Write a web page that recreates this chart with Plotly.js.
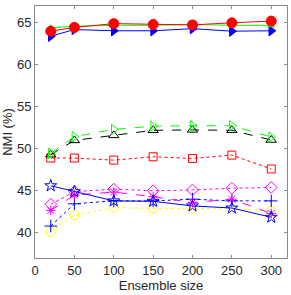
<!DOCTYPE html>
<html>
<head>
<meta charset="utf-8">
<script src="https://cdn.plot.ly/plotly-3.0.1.min.js"></script>
<style>html,body{margin:0;padding:0;background:#fff;}#chart{width:291px;height:295px;}</style>
</head>
<body>
<div id="chart"></div>
<script>
var ensembleSizes = [20, 50, 100, 150, 200, 250, 300];
var xTicks = [0, 50, 100, 150, 200, 250, 300];
var yTicks = [40, 45, 50, 55, 60, 65];

var seriesYellowCircle = [40.1, 42.1, 43.0, 42.9, 42.9, 42.85, 42.6];
var seriesBluePlus = [40.8, 43.45, 43.8, 43.8, 44.0, 43.8, 43.8];
var seriesMagentaAsterisk = [42.65, 44.5, 44.85, 44.3, 43.6, 44.0, 42.3];
var seriesMagentaDiamond = [43.4, 44.9, 45.2, 45.0, 45.1, 45.3, 45.4];
var seriesBlueStar = [45.6, 44.9, 43.8, 43.75, 43.2, 42.95, 41.85];
var seriesRedSquare = [48.9, 48.9, 48.65, 49.05, 48.85, 49.25, 47.6];
var seriesBlackTriangle = [49.3, 51.0, 51.6, 52.2, 52.25, 52.2, 51.05];
var seriesGreenRightTriangle = [49.45, 51.45, 52.3, 52.7, 52.75, 52.75, 51.4];
var seriesBlueRightTriangle = [63.4, 64.2, 64.05, 64.05, 64.3, 64.0, 64.05];
var seriesGreenTriangle = [64.4, 64.6, 64.7, 64.7, 64.8, 64.7, 64.7];
var seriesRedCircle = [64.0, 64.45, 64.9, 64.8, 64.75, 65.0, 65.2];

function tr(y, color, dash, symbol, size) {
  return {
    x: ensembleSizes, y: y, type: 'scatter', mode: 'lines+markers',
    line: {color: color, width: 1, dash: dash},
    marker: {symbol: symbol, size: size, color: color, line: {color: color, width: 1}},
    showlegend: false
  };
}

var data = [
  tr(seriesYellowCircle, '#ffff00', 'dot', 'circle-open', 9),
  tr(seriesBluePlus, '#0000ff', 'dot', 'cross-thin-open', 9),
  tr(seriesMagentaAsterisk, '#ff00ff', 'dash', 'asterisk-open', 8),
  tr(seriesMagentaDiamond, '#ff00ff', 'dot', 'diamond-open', 9),
  tr(seriesBlueStar, '#0000ff', 'solid', 'star-open', 9),
  tr(seriesRedSquare, '#ff0000', 'dot', 'square-open', 8),
  tr(seriesBlackTriangle, '#000000', 'dash', 'triangle-up-open', 9),
  tr(seriesGreenRightTriangle, '#00ff00', 'dash', 'triangle-right-open', 9),
  tr(seriesBlueRightTriangle, '#0000ff', 'solid', 'triangle-right', 9),
  tr(seriesGreenTriangle, '#00ff00', 'solid', 'triangle-up', 6),
  tr(seriesRedCircle, '#ff0000', 'solid', 'circle', 10)
];

var fontFam = 'Liberation Sans, Arial, sans-serif';
var axisCommon = {
  showgrid: false, zeroline: false, showline: true, mirror: 'ticks',
  linecolor: '#8a8a8a', linewidth: 1, ticks: 'inside', ticklen: 3,
  tickcolor: '#8a8a8a', tickfont: {family: fontFam, size: 13, color: '#262626'},
  automargin: true
};

var layout = {
  width: 291, height: 295,
  margin: {l: 35, r: 4, t: 6, b: 37},
  paper_bgcolor: '#ffffff', plot_bgcolor: '#ffffff',
  xaxis: Object.assign({}, axisCommon, {
    range: [0, 320], tickvals: xTicks, ticktext: xTicks.map(String),
    title: {text: 'Ensemble size', font: {family: fontFam, size: 13, color: '#262626'}, standoff: 3}
  }),
  yaxis: Object.assign({}, axisCommon, {
    range: [37, 67], tickvals: yTicks, ticktext: yTicks.map(String),
    title: {text: 'NMI (%)', font: {family: fontFam, size: 13, color: '#262626'}, standoff: 1}
  })
};

Plotly.newPlot('chart', data, layout, {displayModeBar: false, staticPlot: true});
</script>
</body>
</html>
